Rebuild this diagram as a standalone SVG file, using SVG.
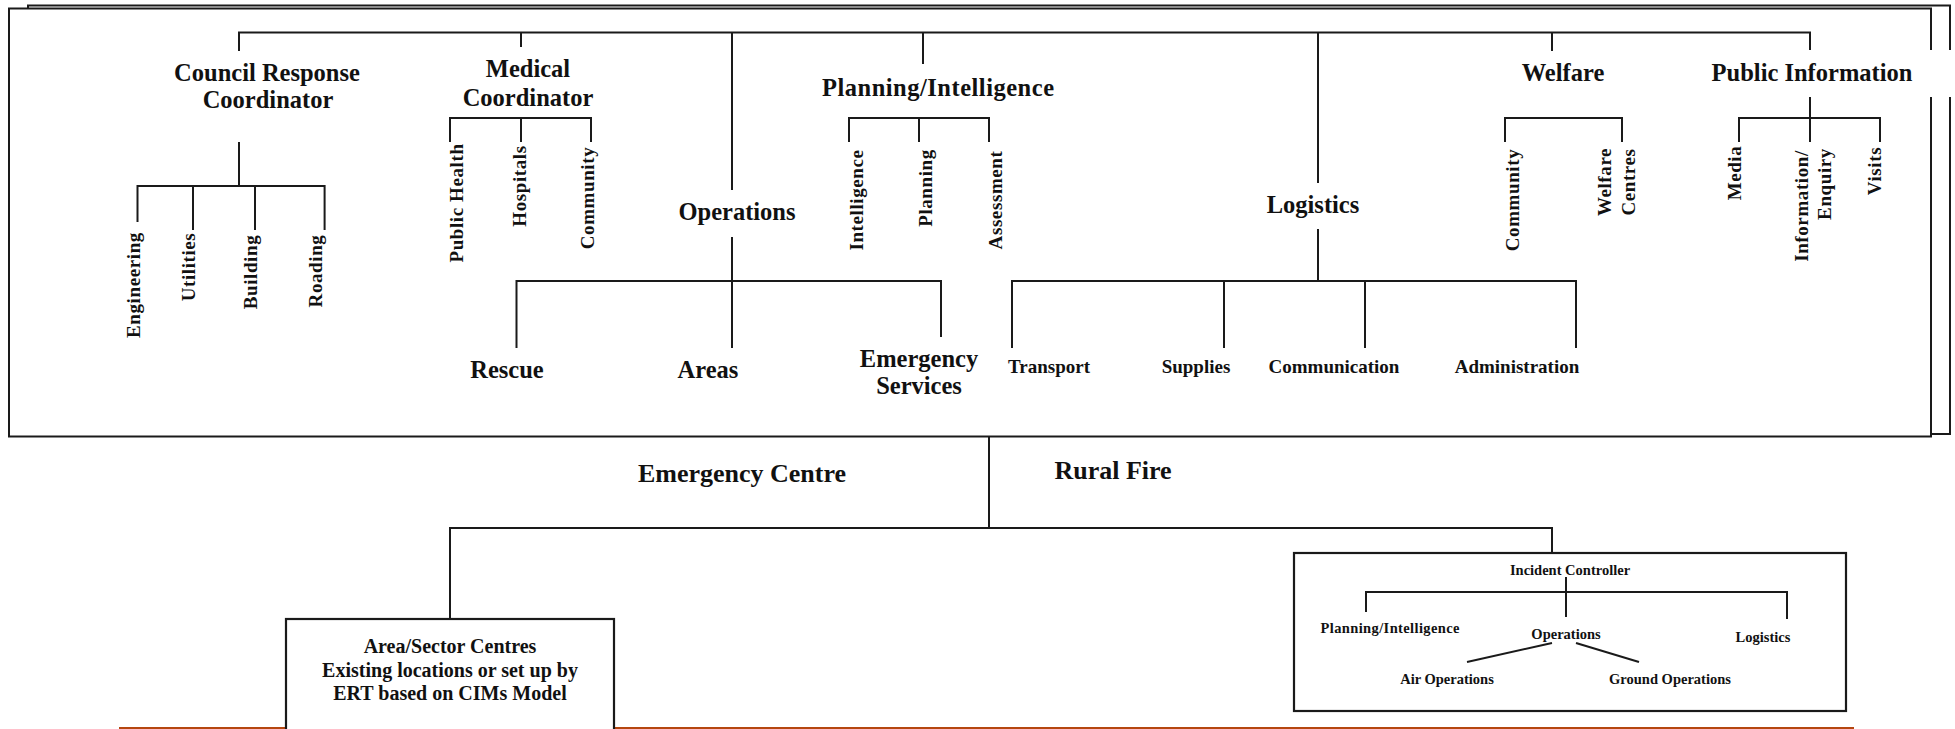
<svg xmlns="http://www.w3.org/2000/svg" width="1955" height="729" viewBox="0 0 1955 729">
  <style>
    .frame { fill: #ffffff; stroke: #1a1a1a; stroke-width: 2; }
    .link { fill: none; stroke: #1a1a1a; stroke-width: 2; }
    .box { fill: #ffffff; stroke: #1a1a1a; stroke-width: 2.2; }
    text { font-family: "Liberation Serif", "Times New Roman", serif; font-weight: bold; fill: #111111; }
    .main { font-size: 24.5px; text-anchor: middle; }
    .big { font-size: 26px; text-anchor: middle; }
    .sub { font-size: 19px; text-anchor: middle; }
    .vert { font-size: 19px; text-anchor: middle; letter-spacing: 0.6px; }
    .note { font-size: 20px; text-anchor: middle; }
    .small { font-size: 14.5px; text-anchor: middle; }
    .rule { stroke: #b5460f; stroke-width: 2; }
  </style>

  <!-- stacked page frames of the emergency centre chart -->
  <g id="frames">
    <rect class="frame" x="28" y="5.5" width="1922" height="428.5"/>
    <rect class="frame" x="9" y="8.5" width="1922" height="428"/>
  </g>

  <!-- orange page rule along the bottom -->
  <line class="rule" x1="119" y1="728" x2="1854" y2="728"/>

  <g id="council-response">
    <text class="main" x="267" y="81">Council Response</text>
    <text class="main" x="268" y="108">Coordinator</text>
  </g>
  <g id="council-engineering"><text class="vert" transform="translate(140,285) rotate(-90)">Engineering</text></g>
  <g id="council-utilities"><text class="vert" transform="translate(195,267) rotate(-90)">Utilities</text></g>
  <g id="council-building"><text class="vert" transform="translate(256.5,272) rotate(-90)">Building</text></g>
  <g id="council-roading"><text class="vert" transform="translate(321.5,271) rotate(-90)">Roading</text></g>

  <g id="medical">
    <text class="main" x="528" y="77">Medical</text>
    <text class="main" x="528" y="106">Coordinator</text>
  </g>
  <g id="medical-public-health"><text class="vert" transform="translate(463,203) rotate(-90)">Public Health</text></g>
  <g id="medical-hospitals"><text class="vert" transform="translate(526,186) rotate(-90)">Hospitals</text></g>
  <g id="medical-community"><text class="vert" transform="translate(593.5,198) rotate(-90)">Community</text></g>

  <g id="operations"><text class="main" x="737" y="220">Operations</text></g>
  <g id="ops-rescue"><text class="main" x="507" y="378">Rescue</text></g>
  <g id="ops-areas"><text class="main" x="708" y="378">Areas</text></g>
  <g id="ops-emergency-services">
    <text class="main" x="919" y="367">Emergency</text>
    <text class="main" x="919" y="394">Services</text>
  </g>

  <g id="planning"><text class="main" x="938" y="96" textLength="232">Planning/Intelligence</text></g>
  <g id="planning-intelligence"><text class="vert" transform="translate(862.5,200) rotate(-90)">Intelligence</text></g>
  <g id="planning-planning"><text class="vert" transform="translate(931.5,188) rotate(-90)">Planning</text></g>
  <g id="planning-assessment"><text class="vert" transform="translate(1002,200) rotate(-90)">Assessment</text></g>

  <g id="logistics"><text class="main" x="1313" y="213">Logistics</text></g>
  <g id="log-transport"><text class="sub" x="1049" y="373">Transport</text></g>
  <g id="log-supplies"><text class="sub" x="1196" y="373">Supplies</text></g>
  <g id="log-communication"><text class="sub" x="1334" y="373">Communication</text></g>
  <g id="log-administration"><text class="sub" x="1517" y="373">Administration</text></g>

  <g id="welfare"><text class="main" x="1563" y="81">Welfare</text></g>
  <g id="welfare-community"><text class="vert" transform="translate(1518.5,200) rotate(-90)">Community</text></g>
  <g id="welfare-centres">
    <text class="vert" transform="translate(1610.5,182) rotate(-90)">Welfare</text>
    <text class="vert" transform="translate(1635,182) rotate(-90)">Centres</text>
  </g>

  <g id="public-information">
    <rect x="1690" y="50" width="265" height="47" fill="#ffffff"/>
    <text class="main" x="1812" y="81">Public Information</text>
  </g>
  <g id="pi-media"><text class="vert" transform="translate(1740.5,173) rotate(-90)">Media</text></g>
  <g id="pi-enquiry">
    <text class="vert" transform="translate(1807.5,206) rotate(-90)">Information/</text>
    <text class="vert" transform="translate(1830.5,184) rotate(-90)">Enquiry</text>
  </g>
  <g id="pi-visits"><text class="vert" transform="translate(1880.5,171) rotate(-90)">Visits</text></g>

  <g id="emergency-centre"><text class="big" x="742" y="482">Emergency Centre</text></g>
  <g id="rural-fire"><text class="big" x="1113" y="479">Rural Fire</text></g>

  <g id="area-sector-centres">
    <rect class="box" x="286" y="619" width="328" height="130"/>
    <text class="note" x="450" y="653">Area/Sector Centres</text>
    <text class="note" x="450" y="677">Existing locations or set up by</text>
    <text class="note" x="450" y="700">ERT based on CIMs Model</text>
  </g>

  <g id="incident-controller">
    <rect class="box" x="1294" y="553" width="552" height="158"/>
    <text class="small" x="1570" y="575">Incident Controller</text>
    <text class="small" x="1390" y="633" textLength="139">Planning/Intelligence</text>
    <text class="small" x="1566" y="639">Operations</text>
    <text class="small" x="1763" y="642">Logistics</text>
    <text class="small" x="1447" y="684">Air Operations</text>
    <text class="small" x="1670" y="684">Ground Operations</text>
  </g>

  <!-- connectors -->
  <g id="connectors" class="link">
    <!-- top level bus and drops -->
    <path d="M239,51 V32.5 H1810 V50"/>
    <path d="M521,32.5 V47"/>
    <path d="M732,32.5 V190"/>
    <path d="M923,32.5 V64"/>
    <path d="M1318,32.5 V183"/>
    <path d="M1552,32.5 V51"/>
    <!-- council response branch -->
    <path d="M239,142 V186"/>
    <path d="M137.5,222 V186 H324.6 V230"/>
    <path d="M193,186 V230"/>
    <path d="M255,186 V230"/>
    <!-- medical branch -->
    <path d="M450,142 V118 H591 V142"/>
    <path d="M521,118 V142"/>
    <!-- planning branch -->
    <path d="M849,142 V118 H989 V142"/>
    <path d="M919,118 V142"/>
    <!-- welfare branch -->
    <path d="M1505,142 V118 H1622 V142"/>
    <!-- public information branch -->
    <path d="M1739,142 V118 H1880 V142"/>
    <path d="M1810,97 V142"/>
    <!-- operations branch -->
    <path d="M732,237 V348"/>
    <path d="M516.5,348 V281 H941 V337"/>
    <!-- logistics branch -->
    <path d="M1318,229 V281"/>
    <path d="M1012,348 V281 H1576 V348"/>
    <path d="M1224,281 V348"/>
    <path d="M1365,281 V348"/>
    <!-- emergency centre to field structures -->
    <path d="M989,437 V528"/>
    <path d="M450,619 V528 H1552 V553"/>
    <!-- incident controller structure -->
    <path d="M1566,577 V617"/>
    <path d="M1366,612 V592 H1787 V619"/>
    <path d="M1552,643 L1467,662"/>
    <path d="M1576,643 L1639,662"/>
  </g>
</svg>
